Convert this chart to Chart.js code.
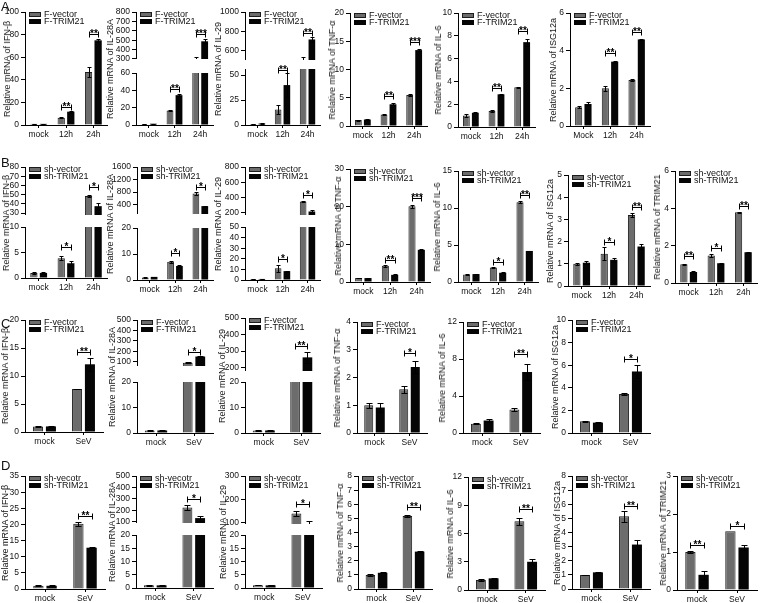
<!DOCTYPE html>
<html>
<head>
<meta charset="utf-8">
<script src="https://cdn.jsdelivr.net/npm/chart.js@4.4.1/dist/chart.umd.min.js"></script>
<style>
html, body { margin: 0; padding: 0; background: #fff; }
#fig { position: relative; width: 760px; height: 603px; overflow: hidden; font-family: "Liberation Sans", Arial, sans-serif; color: #111; }
#fig canvas { position: absolute; }
.ytitle { position: absolute; white-space: nowrap; font-size: 9px; transform: translate(-50%, -50%) rotate(-90deg); }
.plabel { position: absolute; font-size: 13px; line-height: 13px; }
</style>
</head>
<body>
<div id="fig"></div>
<script>
// categories and legends
const catsTime = ['mock', '12h', '24h'];
const catsTimeM = ['Mock', '12h', '24h'];
const catsSeV = ['mock', 'SeV'];
const legF = ['F-vector', 'F-TRIM21'];
const legSh = ['sh-vector', 'sh-TRIM21'];
const legShTypo = ['sh-vecotr', 'sh-TRIM21'];

// values are [vector, TRIM21] per category; sig = [category, y, stars]
// row A
const aIfnb = [[1.0, 6.5, 47], [1.0, 11.8, 75]];
const aIfnbErr = [[0.2, 0.6, 4.5], [0.2, 1.0, 1.2]];
const aIfnbSig = [[1, 16, '**'], [2, 81, '**']];
const aIfnbTicks = [0, 20, 40, 60, 80, 100];

const aIl28 = [[1.0, 16.8, 290], [1.5, 34.5, 488]];
const aIl28Err = [[0.1, 0.8, 30], [0.2, 1.0, 20]];
const aIl28Sig = [[1, 42, '**'], [2, 567, '***']];
const aIl28TicksHi = [300, 400, 500, 600, 700, 800];
const aIl28TicksLo = [0, 20, 40, 60];

const aIl29 = [[1.0, 15.5, 490], [1.5, 40, 714]];
const aIl29Err = [[0.1, 4.5, 40], [0.3, 12, 25]];
const aIl29Sig = [[1, 55.5, '**'], [2, 786, '**']];
const aIl29TicksHi = [600, 800, 1000];
const aIl29TicksLo = [0, 25, 50];

const aTnf = [[1.05, 2.05, 5.5], [1.15, 3.85, 13.45]];
const aTnfErr = [[0.1, 0.05, 0.15], [0.05, 0.2, 0.25]];
const aTnfSig = [[1, 5.4, '**'], [2, 14.8, '***']];
const aTnfTicks = [0, 5, 10, 15, 20];

const aIl6 = [[1.0, 1.4, 3.5], [1.25, 2.87, 7.45]];
const aIl6Err = [[0.1, 0.05, 0.05], [0.05, 0.05, 0.3]];
const aIl6Sig = [[1, 3.45, '**'], [2, 8.4, '**']];
const aIl6Ticks = [0, 2, 4, 6, 8, 10];

const aIsg = [[1.0, 2.0, 2.45], [1.17, 3.42, 4.6]];
const aIsgErr = [[0.05, 0.15, 0.04], [0.08, 0.05, 0.05]];
const aIsgSig = [[1, 3.9, '**'], [2, 5.0, '**']];
const aIsgTicks = [0, 2, 4, 6];

// row B
const bIfnb = [[1.0, 3.9, 48.5], [1.0, 2.9, 37.5]];
const bIfnbErr = [[0.2, 0.35, 1.5], [0.15, 0.45, 3.5]];
const bIfnbSig = [[1, 6.1, '*'], [2, 58, '*']];
const bIfnbTicksHi = [30, 40, 50, 60, 70, 80];
const bIfnbTicksLo = [0, 5, 10];

const bIl28 = [[1.0, 7.0, 754], [1.2, 5.4, 350]];
const bIl28Err = [[0.1, 0.35, 45], [0.1, 0.5, 15]];
const bIl28Sig = [[1, 10.3, '*'], [2, 970, '*']];
const bIl28TicksHi = [400, 800, 1200, 1600];
const bIl28TicksLo = [0, 10, 20];

const bIl29 = [[1.0, 11, 347], [1.0, 8.4, 215]];
const bIl29Err = [[0.1, 3, 12], [0.1, 0.5, 20]];
const bIl29Sig = [[1, 19.4, '*'], [2, 433, '*']];
const bIl29TicksHi = [200, 400, 600, 800];
const bIl29TicksLo = [0, 10, 20, 30, 40, 50];

const bTnf = [[1.05, 4.3, 20.1], [1.05, 1.9, 8.55]];
const bTnfErr = [[0.05, 0.2, 0.4], [0.05, 0.1, 0.1]];
const bTnfSig = [[1, 5.9, '**'], [2, 22.3, '***']];
const bTnfTicks = [0, 10, 20, 30];

const bIl6 = [[1.0, 1.97, 10.8], [1.07, 1.25, 4.2]];
const bIl6Err = [[0.05, 0.1, 0.15], [0.05, 0.05, 0.05]];
const bIl6Sig = [[1, 2.7, '*'], [2, 11.7, '**']];
const bIl6Ticks = [0, 5, 10, 15];

const bIsg = [[1.0, 1.45, 3.2], [1.05, 1.18, 1.78]];
const bIsgErr = [[0.05, 0.3, 0.08], [0.08, 0.1, 0.12]];
const bIsgSig = [[1, 2.0, '*'], [2, 3.58, '**']];
const bIsgTicks = [0, 1, 2, 3, 4, 5];

const bTrim = [[1.0, 1.47, 3.8], [0.59, 1.06, 1.65]];
const bTrimErr = [[0.03, 0.1, 0.03], [0.03, 0.02, 0.03]];
const bTrimSig = [[0, 1.47, '**'], [1, 1.87, '*'], [2, 4.15, '**']];
const bTrimTicks = [0, 2, 4, 6];

// row C
const cIfnb = [[1.0, 7.7], [1.0, 12.1]];
const cIfnbErr = [[0.12, 0.05], [0.05, 1.2]];
const cIfnbSig = [[1, 14.3, '**']];
const cIfnbTicks = [0, 5, 10, 15, 20];

const cIl28 = [[1.0, 90], [1.0, 150]];
const cIl28Err = [[0.1, 4], [0.1, 6]];
const cIl28Sig = [[1, 190, '*']];
const cIl28TicksHi = [100, 200, 300, 400, 500];
const cIl28TicksLo = [0, 10, 20];

const cIl29 = [[1.0, 130], [1.0, 262]];
const cIl29Err = [[0.05, 0], [0.05, 35]];
const cIl29Sig = [[1, 328, '**']];
const cIl29TicksHi = [200, 300, 400, 500];
const cIl29TicksLo = [0, 10, 20];

const cTnf = [[1.0, 1.58], [0.92, 2.38]];
const cTnfErr = [[0.1, 0.12], [0.15, 0.2]];
const cTnfSig = [[1, 2.9, '*']];
const cTnfTicks = [0, 1, 2, 3, 4];

const cIl6 = [[1.0, 2.53], [1.35, 6.6]];
const cIl6Err = [[0.05, 0.15], [0.12, 0.9]];
const cIl6Sig = [[1, 8.6, '**']];
const cIl6Ticks = [0, 4, 8, 12];

const cIsg = [[1.03, 3.45], [0.92, 5.45]];
const cIsgErr = [[0.07, 0.05], [0.04, 0.55]];
const cIsgSig = [[1, 6.55, '*']];
const cIsgTicks = [0, 2, 4, 6, 8, 10];

// row D
const dIfnb = [[1.0, 20.2], [1.0, 12.8]];
const dIfnbErr = [[0.1, 0.6], [0.1, 0.1]];
const dIfnbSig = [[1, 22.7, '**']];
const dIfnbTicks = [0, 5, 10, 15, 20, 25, 30, 35];

const dIl28 = [[1.0, 225], [1.0, 132]];
const dIl28Err = [[0.3, 25], [0.1, 22]];
const dIl28Sig = [[1, 296, '*']];
const dIl28TicksHi = [100, 200, 300, 400, 500];
const dIl28TicksLo = [0, 5, 10, 15, 20];

const dIl29 = [[1.0, 140], [1.0, 92]];
const dIl29Err = [[0.05, 12], [0.05, 14]];
const dIl29Sig = [[1, 180, '*']];
const dIl29TicksHi = [100, 200, 300];
const dIl29TicksLo = [0, 5, 10, 15, 20];

const dTnf = [[1.0, 5.18], [1.15, 2.65]];
const dTnfErr = [[0.05, 0.08], [0.05, 0.04]];
const dTnfSig = [[1, 5.8, '**']];
const dTnfTicks = [0, 1, 2, 3, 4, 5, 6, 7, 8];

const dIl6 = [[1.05, 7.3], [1.24, 3.0]];
const dIl6Err = [[0.1, 0.4], [0.03, 0.3]];
const dIl6Sig = [[1, 8.65, '**']];
const dIl6Ticks = [0, 3, 6, 9, 12];

const dIsg = [[1.0, 5.15], [1.18, 3.15]];
const dIsgErr = [[0.02, 0.38], [0.04, 0.3]];
const dIsgSig = [[1, 5.9, '**']];
const dIsgTicks = [0, 1, 2, 3, 4, 5, 6, 7, 8];

const dTrim = [[1.0, 1.55], [0.4, 1.12]];
const dTrimErr = [[0.02, 0], [0.1, 0.07]];
const dTrimSig = [[0, 1.18, '**'], [1, 1.69, '*']];
const dTrimTicks = [0, 1, 2, 3];

const FONT = '"Liberation Sans", Arial, sans-serif';
const GREY = '#6c6c6c';
const BLACK = '#050505';

// panel layout: x = y-axis position, r = right end of x-axis, tx = y-title x
const panels = [
  { x: 25, r: 107, tx: 7, gene: 'IFN-β', cats: catsTime, leg: legF, vals: aIfnb, errs: aIfnbErr, sig: aIfnbSig,
    segs: [{ min: 0, max: 100, top: 12, bottom: 125, ticks: aIfnbTicks }] },
  { x: 136, r: 213, tx: 110, gene: 'IL-28A', cats: catsTime, leg: legF, vals: aIl28, errs: aIl28Err, sig: aIl28Sig,
    segs: [{ min: 300, max: 800, top: 12, bottom: 65, ticks: aIl28TicksHi }, { min: 0, max: 60, top: 73, bottom: 125, ticks: aIl28TicksLo }] },
  { x: 245, r: 320, tx: 218, gene: 'IL-29', cats: catsTime, leg: legF, vals: aIl29, errs: aIl29Err, sig: aIl29Sig,
    segs: [{ min: 500, max: 1000, top: 12, bottom: 66, ticks: aIl29TicksHi }, { min: 0, max: 56, top: 69, bottom: 125, ticks: aIl29TicksLo }] },
  { x: 350, r: 427, tx: 332, gene: 'TNF-α', cats: catsTime, leg: legF, vals: aTnf, errs: aTnfErr, sig: aTnfSig,
    segs: [{ min: 0, max: 20, top: 13, bottom: 126, ticks: aTnfTicks }] },
  { x: 458, r: 535, tx: 438, gene: 'IL-6', cats: catsTime, leg: legF, vals: aIl6, errs: aIl6Err, sig: aIl6Sig,
    segs: [{ min: 0, max: 10, top: 13, bottom: 127, ticks: aIl6Ticks }] },
  { x: 570, r: 650, tx: 553, gene: 'ISG12a', cats: catsTimeM, leg: legF, vals: aIsg, errs: aIsgErr, sig: aIsgSig,
    segs: [{ min: 0, max: 6, top: 13, bottom: 126, ticks: aIsgTicks }] },

  { x: 25, r: 107, tx: 6, gene: 'IFN-β', cats: catsTime, leg: legSh, vals: bIfnb, errs: bIfnbErr, sig: bIfnbSig,
    segs: [{ min: 28, max: 80, top: 167, bottom: 221, ticks: bIfnbTicksHi }, { min: 0, max: 10, top: 227, bottom: 278, ticks: bIfnbTicksLo }] },
  { x: 137, r: 213, tx: 110, gene: 'IL-28A', cats: catsTime, leg: legSh, vals: bIl28, errs: bIl28Err, sig: bIl28Sig,
    segs: [{ min: 100, max: 1600, top: 167, bottom: 220, ticks: bIl28TicksHi }, { min: 0, max: 20, top: 228, bottom: 280, ticks: bIl28TicksLo }] },
  { x: 245, r: 320, tx: 218, gene: 'IL-29', cats: catsTime, leg: legSh, vals: bIl29, errs: bIl29Err, sig: bIl29Sig,
    segs: [{ min: 170, max: 800, top: 167, bottom: 221, ticks: bIl29TicksHi }, { min: 0, max: 50, top: 227, bottom: 280, ticks: bIl29TicksLo }] },
  { x: 350, r: 430, tx: 338, gene: 'TNF-α', cats: catsTime, leg: legSh, vals: bTnf, errs: bTnfErr, sig: bTnfSig,
    segs: [{ min: 0, max: 30, top: 169, bottom: 282, ticks: bTnfTicks }] },
  { x: 458, r: 538, tx: 437, gene: 'IL-6', cats: catsTime, leg: legSh, vals: bIl6, errs: bIl6Err, sig: bIl6Sig,
    segs: [{ min: 0, max: 15, top: 171, bottom: 282, ticks: bIl6Ticks }] },
  { x: 568, r: 650, tx: 550, gene: 'ISG12a', cats: catsTime, leg: legSh, vals: bIsg, errs: bIsgErr, sig: bIsgSig,
    segs: [{ min: 0, max: 5, top: 175, bottom: 286, ticks: bIsgTicks }] },
  { x: 675, r: 757, tx: 657, gene: 'TRIM21', cats: catsTime, leg: legSh, vals: bTrim, errs: bTrimErr, sig: bTrimSig,
    segs: [{ min: 0, max: 6, top: 171, bottom: 283, ticks: bTrimTicks }] },

  { x: 25, r: 103, tx: 5, gene: 'IFN-β', cats: catsSeV, leg: legF, vals: cIfnb, errs: cIfnbErr, sig: cIfnbSig,
    segs: [{ min: 0, max: 20, top: 320, bottom: 432, ticks: cIfnbTicks }] },
  { x: 137, r: 213, tx: 112, gene: 'IL-28A', cats: catsSeV, leg: legF, vals: cIl28, errs: cIl28Err, sig: cIl28Sig,
    segs: [{ min: 60, max: 500, top: 320, bottom: 372, ticks: cIl28TicksHi }, { min: 0, max: 20, top: 382, bottom: 433, ticks: cIl28TicksLo }] },
  { x: 245, r: 320, tx: 222, gene: 'IL-29', cats: catsSeV, leg: legF, vals: cIl29, errs: cIl29Err, sig: cIl29Sig,
    segs: [{ min: 180, max: 500, top: 318, bottom: 377, ticks: cIl29TicksHi }, { min: 0, max: 20, top: 382, bottom: 433, ticks: cIl29TicksLo }] },
  { x: 357, r: 427, tx: 337, gene: 'TNF-α', cats: catsSeV, leg: legF, vals: cTnf, errs: cTnfErr, sig: cTnfSig,
    segs: [{ min: 0, max: 4, top: 322, bottom: 433, ticks: cTnfTicks }] },
  { x: 463, r: 540, tx: 442, gene: 'IL-6', cats: catsSeV, leg: legF, vals: cIl6, errs: cIl6Err, sig: cIl6Sig,
    segs: [{ min: 0, max: 12, top: 322, bottom: 433, ticks: cIl6Ticks }] },
  { x: 572, r: 650, tx: 555, gene: 'ISG12a', cats: catsSeV, leg: legF, vals: cIsg, errs: cIsgErr, sig: cIsgSig,
    segs: [{ min: 0, max: 10, top: 320, bottom: 433, ticks: cIsgTicks }] },

  { x: 25, r: 105, tx: 5, gene: 'IFN-β', cats: catsSeV, leg: legShTypo, vals: dIfnb, errs: dIfnbErr, sig: dIfnbSig,
    segs: [{ min: 0, max: 35, top: 476, bottom: 589, ticks: dIfnbTicks }] },
  { x: 136, r: 213, tx: 112, gene: 'IL-28A', cats: catsSeV, leg: legShTypo, vals: dIl28, errs: dIl28Err, sig: dIl28Sig,
    segs: [{ min: 90, max: 500, top: 476, bottom: 529, ticks: dIl28TicksHi }, { min: 0, max: 20, top: 535, bottom: 588, ticks: dIl28TicksLo }] },
  { x: 245, r: 322, tx: 223, gene: 'IL-29', cats: catsSeV, leg: legShTypo, vals: dIl29, errs: dIl29Err, sig: dIl29Sig,
    segs: [{ min: 95, max: 300, top: 476, bottom: 530, ticks: dIl29TicksHi }, { min: 0, max: 20, top: 535, bottom: 588, ticks: dIl29TicksLo }] },
  { x: 358, r: 432, tx: 340, gene: 'TNF-α', cats: catsSeV, leg: legSh, vals: dTnf, errs: dTnfErr, sig: dTnfSig,
    segs: [{ min: 0, max: 8, top: 476, bottom: 589, ticks: dTnfTicks }] },
  { x: 468, r: 545, tx: 450, gene: 'IL-6', cats: catsSeV, leg: legShTypo, vals: dIl6, errs: dIl6Err, sig: dIl6Sig,
    segs: [{ min: 0, max: 12, top: 477, bottom: 590, ticks: dIl6Ticks }] },
  { x: 572, r: 650, tx: 557, gene: 'ISG12a', cats: catsSeV, leg: legSh, vals: dIsg, errs: dIsgErr, sig: dIsgSig,
    segs: [{ min: 0, max: 8, top: 476, bottom: 589, ticks: dIsgTicks }] },
  { x: 677, r: 757, tx: 663, gene: 'TRIM21', cats: catsSeV, leg: legShTypo, vals: dTrim, errs: dTrimErr, sig: dTrimSig,
    segs: [{ min: 0, max: 3, top: 476, bottom: 590, ticks: dTrimTicks }] }
];

const panelLetters = [['A', 1, 0], ['B', 1, 156], ['C', 1, 317], ['D', 1, 459]];

Chart.defaults.font.family = FONT;
Chart.defaults.font.size = 8.5;
Chart.defaults.color = '#111';
Chart.defaults.animation = false;

const fig = document.getElementById('fig');

// error bars, clipped to the segment
const errorBars = {
  id: 'errorBars',
  afterDatasetsDraw(chart) {
    const { ctx, chartArea: a, scales: { y } } = chart;
    ctx.save();
    ctx.beginPath();
    ctx.rect(a.left, a.top - 1, a.right - a.left, a.bottom - a.top + 1);
    ctx.clip();
    ctx.strokeStyle = '#000';
    ctx.lineWidth = 1;
    chart.data.datasets.forEach((ds, i) => {
      chart.getDatasetMeta(i).data.forEach((bar, j) => {
        const e = ds.errs[j];
        if (!e) return;
        const v = ds.data[j];
        const x = Math.round(bar.x) + 0.5;
        const yt = Math.round(y.getPixelForValue(v + e)) + 0.5;
        const yb = Math.round(y.getPixelForValue(v - e)) + 0.5;
        const cap = Math.max(2, Math.round(bar.width * 0.3));
        ctx.beginPath();
        ctx.moveTo(x, yt); ctx.lineTo(x, yb);
        ctx.moveTo(x - cap, yt); ctx.lineTo(x + cap, yt);
        ctx.moveTo(x - cap, yb); ctx.lineTo(x + cap, yb);
        ctx.stroke();
      });
    });
    ctx.restore();
  }
};

function sigPlugin(list) {
  return {
    id: 'sigMarks',
    afterDraw(chart) {
      const { ctx, scales: { y } } = chart;
      const m0 = chart.getDatasetMeta(0).data;
      const m1 = chart.getDatasetMeta(1).data;
      ctx.save();
      ctx.strokeStyle = '#000';
      ctx.fillStyle = '#000';
      ctx.lineWidth = 1;
      ctx.font = 'bold 10px ' + FONT;
      ctx.textAlign = 'center';
      ctx.textBaseline = 'alphabetic';
      list.forEach(([i, v, t]) => {
        if (v < y.min || v > y.max) return;
        const x1 = Math.round(m0[i].x) + 0.5;
        const x2 = Math.round(m1[i].x) + 0.5;
        const yy = Math.round(y.getPixelForValue(v)) + 0.5;
        ctx.beginPath();
        ctx.moveTo(x1, yy); ctx.lineTo(x2, yy);
        ctx.moveTo(x1, yy - 3); ctx.lineTo(x1, yy + 3);
        ctx.moveTo(x2, yy - 3); ctx.lineTo(x2, yy + 3);
        ctx.stroke();
        ctx.fillText(t, (x1 + x2) / 2, yy + 2);
      });
      ctx.restore();
    }
  };
}

function legendPlugin(labels) {
  return {
    id: 'legendBox',
    afterDraw(chart) {
      const { ctx, chartArea: a } = chart;
      const x0 = Math.round(a.left) + 4;
      ctx.save();
      ctx.font = '9px ' + FONT;
      ctx.textBaseline = 'middle';
      ctx.textAlign = 'left';
      labels.forEach((lab, i) => {
        const yy = Math.round(a.top) + i * 7;
        ctx.fillStyle = i === 0 ? GREY : BLACK;
        ctx.fillRect(x0, yy, 12, 5);
        if (i === 0) {
          ctx.strokeStyle = '#1c1c1c';
          ctx.lineWidth = 1;
          ctx.strokeRect(x0 + 0.5, yy + 0.5, 11, 4);
        }
        ctx.fillStyle = '#111';
        ctx.fillText(lab, x0 + 15, yy + 3);
      });
      ctx.restore();
    }
  };
}

function addChart(p, seg, isTop, isBottom) {
  const padL = 36, padR = 3, padT = 7, padB = isBottom ? 16 : 1;
  const top = Math.round(seg.top), bottom = Math.round(seg.bottom);
  const w = p.r - p.x + padL + padR;
  const h = bottom - top + padT + padB;
  const c = document.createElement('canvas');
  c.width = w;
  c.height = h;
  c.style.left = (p.x - padL) + 'px';
  c.style.top = (top - padT) + 'px';
  c.style.width = w + 'px';
  c.style.height = h + 'px';
  fig.appendChild(c);
  const two = p.cats.length === 2;
  const plugins = [errorBars, sigPlugin(p.sig)];
  if (isTop) plugins.push(legendPlugin(p.leg));
  new Chart(c, {
    type: 'bar',
    data: {
      labels: p.cats,
      datasets: [
        { label: p.leg[0], data: p.vals[0], errs: p.errs[0], backgroundColor: GREY, borderColor: '#1c1c1c', borderWidth: 1, clip: 0 },
        { label: p.leg[1], data: p.vals[1], errs: p.errs[1], backgroundColor: BLACK, borderWidth: 0, clip: 0 }
      ]
    },
    options: {
      responsive: false,
      devicePixelRatio: 1,
      animation: false,
      categoryPercentage: two ? 0.66 : 0.7,
      barPercentage: two ? 0.78 : 0.76,
      layout: { padding: { top: padT, right: padR, bottom: isBottom ? 0 : padB, left: 0 } },
      plugins: { legend: { display: false }, tooltip: { enabled: false } },
      scales: {
        x: {
          display: isBottom,
          offset: true,
          grid: { offset: false, drawOnChartArea: false, tickLength: 3, color: '#000' },
          border: { color: '#000', width: 1 },
          ticks: { padding: 2, maxRotation: 0, autoSkip: false, color: '#111', font: { size: 8.5 } },
          afterFit: s => { s.height = padB; }
        },
        y: {
          min: seg.min,
          max: seg.max,
          grid: { drawOnChartArea: false, tickLength: 4, color: '#000' },
          border: { color: '#000', width: 1 },
          ticks: { padding: 2, autoSkip: false, color: '#111', font: { size: 8.5 }, callback: v => String(v) },
          afterBuildTicks: s => { s.ticks = seg.ticks.map(v => ({ value: v })); },
          afterFit: s => { s.width = padL; }
        }
      }
    },
    plugins
  });
}

panels.forEach(p => {
  p.segs.forEach((seg, i) => addChart(p, seg, i === 0, i === p.segs.length - 1));
  const t = document.createElement('div');
  t.className = 'ytitle';
  t.textContent = 'Relative mRNA of ' + p.gene;
  t.style.left = p.tx + 'px';
  t.style.top = ((p.segs[0].top + p.segs[p.segs.length - 1].bottom) / 2) + 'px';
  fig.appendChild(t);
});

panelLetters.forEach(([txt, x, y]) => {
  const d = document.createElement('div');
  d.className = 'plabel';
  d.textContent = txt;
  d.style.left = x + 'px';
  d.style.top = y + 'px';
  fig.appendChild(d);
});
</script>
</body>
</html>
